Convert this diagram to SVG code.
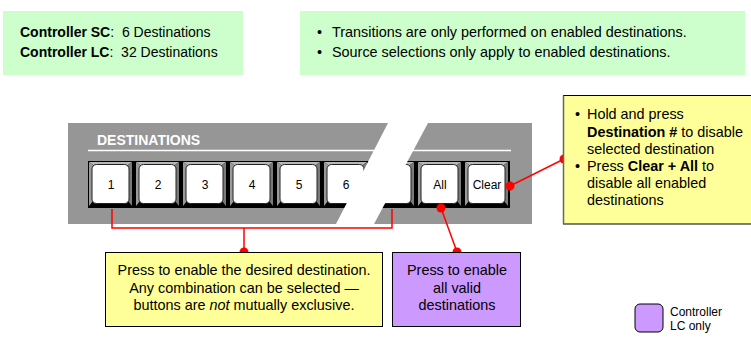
<svg xmlns="http://www.w3.org/2000/svg" xmlns:xlink="http://www.w3.org/1999/xlink" width="751" height="339" viewBox="0 0 751 339">
  <style>
    text { font-family: "Liberation Sans", Arial, sans-serif; fill: #000; }
    .t14 { font-size: 14.4px; }
    .t13 { font-size: 14px; }
    .key { font-size: 12px; text-anchor: middle; }
    .b { font-weight: bold; }
    .mid { text-anchor: middle; }
    .note { stroke: #000; stroke-width: 1; }
    .red { stroke: #ff0000; stroke-width: 1.5; fill: none; }
    .dot { fill: #ff0000; }
  </style>
  <defs>
    <!-- one bevelled key cap, 45 x 47 -->
    <g id="keycap">
      <rect x="0" y="0" width="45" height="47" fill="#000"/>
      <polygon points="1,1 44,1 40,4 5,4" fill="#b8b8b8"/>
      <polygon points="1,1 5,4 5,40 1,45" fill="#9a9a9a"/>
      <polygon points="44,1 44,45 40,40 40,4" fill="#7a7a7a"/>
      <rect x="4" y="3.5" width="37" height="39" rx="4.5" fill="#fff" stroke="#222" stroke-width="1"/>
    </g>
  </defs>

  <rect width="751" height="339" fill="#fff"/>

  <!-- top info boxes -->
  <g id="models">
    <rect x="3" y="11" width="240" height="64" fill="#ccffcc"/>
    <text class="t13" x="20" y="37" xml:space="preserve"><tspan class="b">Controller SC</tspan>:  6 Destinations</text>
    <text class="t13" x="20" y="57" xml:space="preserve"><tspan class="b">Controller LC</tspan>:  32 Destinations</text>
  </g>
  <g id="rules">
    <rect x="300" y="11" width="445" height="64" fill="#ccffcc"/>
    <text class="t14" x="317" y="37">•</text>
    <text class="t14" x="332" y="37">Transitions are only performed on enabled destinations.</text>
    <text class="t14" x="317" y="57">•</text>
    <text class="t14" x="332" y="57">Source selections only apply to enabled destinations.</text>
  </g>

  <!-- destination key panel -->
  <g id="panel">
    <rect x="68" y="123" width="464" height="101" fill="#969696"/>
    <text x="97" y="145" style="fill:#fff;font-size:14px;font-weight:bold">DESTINATIONS</text>
    <line x1="88" y1="150.5" x2="511" y2="150.5" stroke="#fff" stroke-width="1.5"/>
    <rect x="88" y="161" width="422" height="47" fill="#000"/>
    <use xlink:href="#keycap" x="88" y="161"/>
    <use xlink:href="#keycap" x="135" y="161"/>
    <use xlink:href="#keycap" x="182" y="161"/>
    <use xlink:href="#keycap" x="229" y="161"/>
    <use xlink:href="#keycap" x="276" y="161"/>
    <use xlink:href="#keycap" x="323" y="161"/>
    <use xlink:href="#keycap" x="370" y="161"/>
    <use xlink:href="#keycap" x="417" y="161"/>
    <use xlink:href="#keycap" x="464" y="161"/>
    <text class="key" x="111" y="189">1</text>
    <text class="key" x="158" y="189">2</text>
    <text class="key" x="205" y="189">3</text>
    <text class="key" x="252" y="189">4</text>
    <text class="key" x="299" y="189">5</text>
    <text class="key" x="346" y="189">6</text>
    <text class="key" x="440" y="189">All</text>
    <text class="key" x="487" y="189">Clear</text>
    <!-- break in the key row -->
    <polygon points="388,123 428,123 374,224 336,224" fill="#fff"/>
  </g>

  <!-- connectors -->
  <g id="connectors">
    <polyline class="red" points="112,209 112,228 392,228 392,209"/>
    <line class="red" x1="244" y1="228" x2="244" y2="252"/>
    <line class="red" x1="441" y1="208" x2="457" y2="252"/>
    <line class="red" x1="510" y1="186" x2="564" y2="159"/>
    <circle class="dot" cx="244" cy="252" r="4.5"/>
    <circle class="dot" cx="441" cy="208" r="4.5"/>
    <circle class="dot" cx="457" cy="252" r="4.5"/>
    <circle class="dot" cx="510" cy="186" r="4.5"/>
    <circle class="dot" cx="564" cy="159" r="4.5"/>
  </g>

  <!-- callouts -->
  <g id="enable-note">
    <rect class="note" x="105.5" y="252.5" width="277" height="74" fill="#ffff99"/>
    <text class="t14 mid" x="244" y="275">Press to enable the desired destination.</text>
    <text class="t14 mid" x="244" y="293">Any combination can be selected —</text>
    <text class="t14 mid" x="244" y="310">buttons are <tspan font-style="italic">not</tspan> mutually exclusive.</text>
  </g>
  <g id="all-note">
    <rect class="note" x="392.5" y="252.5" width="128" height="74" fill="#cc99ff"/>
    <text class="t14 mid" x="457" y="275">Press to enable</text>
    <text class="t14 mid" x="457" y="293">all valid</text>
    <text class="t14 mid" x="457" y="310">destinations</text>
  </g>
  <g id="disable-note">
    <rect class="note" x="563.5" y="95.5" width="200" height="128.5" fill="#ffff99" stroke="#333"/>
    <line x1="563.5" y1="95.5" x2="563.5" y2="224" stroke="#666" stroke-width="1.5"/>
    <text class="t14" x="575" y="119">•</text>
    <text class="t14" x="587" y="119">Hold and press</text>
    <text class="t14" x="587" y="137"><tspan class="b">Destination #</tspan> to disable</text>
    <text class="t14" x="587" y="154">selected destination</text>
    <text class="t14" x="575" y="171">•</text>
    <text class="t14" x="587" y="171">Press <tspan class="b">Clear + All</tspan> to</text>
    <text class="t14" x="587" y="188">disable all enabled</text>
    <text class="t14" x="587" y="205">destinations</text>
  </g>

  <!-- legend -->
  <g id="legend">
    <rect x="635" y="304" width="28" height="28" rx="5" fill="#cc99ff" stroke="#000" stroke-width="1"/>
    <text x="670" y="316" style="font-size:12px">Controller</text>
    <text x="670" y="330" style="font-size:12px">LC only</text>
  </g>
</svg>
